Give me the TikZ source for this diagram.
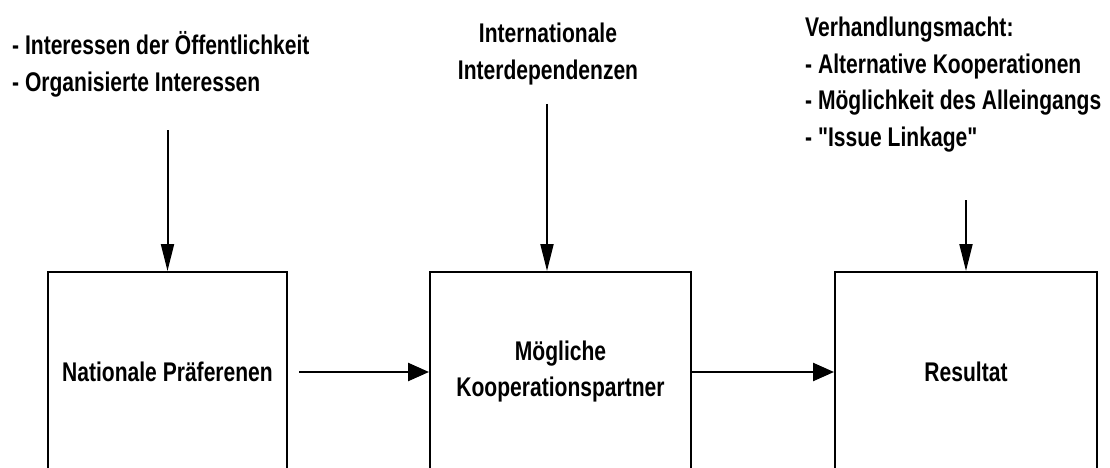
\documentclass[tikz,border=0pt]{standalone}
\usepackage{fontspec}
\setmainfont{Liberation Sans}[FakeStretch=0.78, Ligatures=TeXOff]
\usetikzlibrary{arrows.meta}
\begin{document}
\begin{tikzpicture}[x=1pt,y=-1pt,
  box/.style={draw, line width=2pt, minimum height=200pt, inner sep=0pt,
    font=\bfseries\fontsize{27}{36}\selectfont, align=center},
  lbl/.style={inner sep=0pt, font=\bfseries\fontsize{27}{36.5}\selectfont},
  harrow/.style={line width=2.5pt, -{Triangle[length=21pt,width=18pt]}},
  varrow/.style={line width=2pt, -{Triangle[length=27pt,width=13pt]}}]
\useasboundingbox (0,0) rectangle (1110,468);
\clip (0,0) rectangle (1110,468);
\node[box, minimum width=239pt] (b1) at (167.5,372) {Nationale Präferenen};
\node[box, minimum width=261pt] (b2) at (560.5,372) {Mögliche\\Kooperationspartner};
\node[box, minimum width=262pt] (b3) at (966,372) {Resultat};
\node[lbl, anchor=base west] (t1) at (12,55) {\begin{tabular}[t]{@{}l@{}}- Interessen der Öffentlichkeit\\- Organisierte Interessen\end{tabular}};
\node[lbl, anchor=base] (t2) at (548,43) {\begin{tabular}[t]{@{}c@{}}Internationale\\Interdependenzen\end{tabular}};
\node[lbl, anchor=base west] (t3) at (805,37) {\begin{tabular}[t]{@{}l@{}}Verhandlungsmacht:\\- Alternative Kooperationen\\- Möglichkeit des Alleingangs\\- "Issue Linkage"\end{tabular}};
\coordinate (s1) at (167.5,130);
\coordinate (s2) at (547,104);
\coordinate (s3) at (966,200);
\draw[varrow] (s1) -- (b1.north);
\draw[varrow] (s2) -- (s2 |- b2.north);
\draw[varrow] (s3) -- (b3.north);
\draw[harrow] ([xshift=11pt]b1.east) -- (b2.west);
\draw[harrow] (b2.east) -- (b3.west);
\end{tikzpicture}
\end{document}
